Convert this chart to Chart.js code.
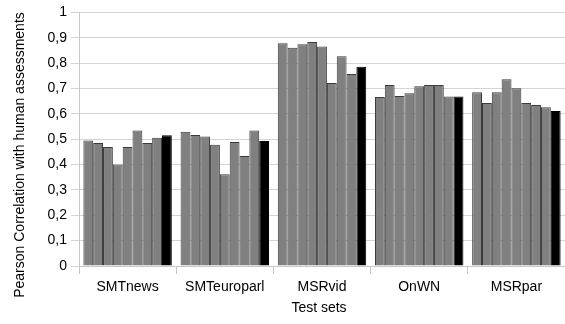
<!DOCTYPE html>
<html>
<head>
<meta charset="utf-8">
<script src="https://cdn.jsdelivr.net/npm/chart.js@4"></script>
<style>
html,body{margin:0;padding:0;background:#fff;}
#wrap{width:565px;height:324px;}
</style>
</head>
<body>
<div id="wrap"><canvas id="c" width="565" height="324"></canvas></div>
<script>
const categories = ["SMTnews", "SMTeuroparl", "MSRvid", "OnWN", "MSRpar"];
const yTicks = ["0","0,1","0,2","0,3","0,4","0,5","0,6","0,7","0,8","0,9","1"];
const xTitle = "Test sets";
const yTitle = "Pearson Correlation with human assessments";
const run1 = [0.495, 0.529, 0.878, 0.666, 0.685];
const run2 = [0.485, 0.517, 0.861, 0.714, 0.643];
const run3 = [0.469, 0.511, 0.874, 0.670, 0.685];
const run4 = [0.400, 0.478, 0.883, 0.681, 0.736];
const run5 = [0.469, 0.362, 0.866, 0.709, 0.701];
const run6 = [0.534, 0.489, 0.722, 0.714, 0.643];
const run7 = [0.485, 0.434, 0.827, 0.714, 0.635];
const run8 = [0.506, 0.534, 0.757, 0.668, 0.626];
const best = [0.516, 0.493, 0.786, 0.668, 0.611];

const grayRuns = [run1, run2, run3, run4, run5, run6, run7, run8];
const datasets = grayRuns.map((d, i) => ({
  label: "run" + (i + 1),
  data: d,
  backgroundColor: "#808080",
  borderColor: "#3a3a3a",
  borderWidth: 1,
  barPercentage: 1.0,
  categoryPercentage: 0.91
}));
datasets.push({
  label: "best",
  data: best,
  backgroundColor: "#000000",
  borderColor: "#000000",
  borderWidth: 1,
  barPercentage: 1.0,
  categoryPercentage: 0.91
});

const fontFam = "'Liberation Sans', Arial, sans-serif";

const titlesPlugin = {
  id: "titles",
  afterDraw(chart) {
    const ctx = chart.ctx;
    ctx.save();
    ctx.fillStyle = "#000";
    ctx.font = "14px " + fontFam;
    ctx.textAlign = "center";
    ctx.textBaseline = "middle";
    const area = chart.chartArea;
    ctx.fillText(xTitle, (area.left + area.right) / 2 - 3, 308);
    ctx.translate(20, 155);
    ctx.rotate(-Math.PI / 2);
    ctx.fillText(yTitle, 0, 0);
    ctx.restore();
  }
};

new Chart(document.getElementById("c"), {
  type: "bar",
  data: { labels: categories, datasets: datasets },
  plugins: [titlesPlugin],
  options: {
    responsive: false,
    animation: false,
    layout: { padding: { top: 6, right: 0, left: 0, bottom: 0 } },
    plugins: { legend: { display: false }, tooltip: { enabled: false } },
    scales: {
      x: {
        grid: { offset: true, drawOnChartArea: false, color: "#c8c8c8", tickLength: 8 },
        border: { color: "#c8c8c8" },
        ticks: { color: "#000", font: { family: fontFam, size: 14 }, padding: 5 },
        afterFit: (s) => { s.height = 58; }
      },
      y: {
        min: 0, max: 1,
        ticks: {
          stepSize: 0.1,
          color: "#000",
          font: { family: fontFam, size: 14 },
          padding: 4,
          callback: (v, i) => yTicks[i]
        },
        grid: { color: "#d4d4d4", tickLength: 8 },
        border: { color: "#c8c8c8" },
        afterFit: (s) => { s.width = 79; }
      }
    }
  }
});
</script>
</body>
</html>
